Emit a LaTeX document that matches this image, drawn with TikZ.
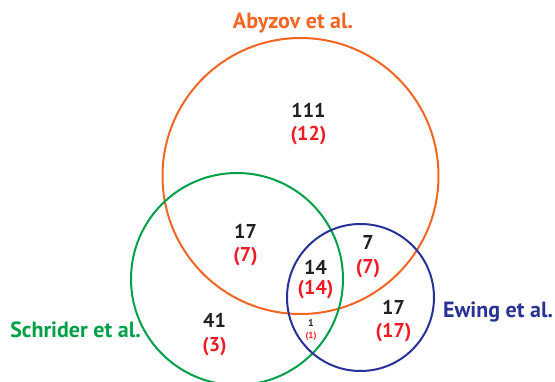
\documentclass[tikz,border=0pt]{standalone}
\usepackage{fontspec}
\setmainfont{PT Sans}
\definecolor{aorange}{RGB}{242,101,34}
\definecolor{sgreen}{RGB}{0,160,72}
\definecolor{eblue}{RGB}{40,50,150}
\definecolor{nred}{RGB}{237,28,36}
\definecolor{nblack}{RGB}{35,31,32}
\begin{document}
\begin{tikzpicture}[x=1pt,y=-1pt,
  ring/.style={line width=2pt},
  num/.style={font=\bfseries\fontsize{20}{20}\selectfont, text=nblack, inner sep=0pt},
  rnum/.style={font=\bfseries\fontsize{20}{20}\selectfont, text=nred, inner sep=0pt},
  snum/.style={font=\bfseries\fontsize{10}{10}\selectfont, text=nblack, inner sep=0pt},
  srnum/.style={font=\bfseries\fontsize{9}{9}\selectfont, text=nred, inner sep=0pt},
  lab/.style={font=\bfseries\fontsize{22}{22}\selectfont, inner sep=0pt}]
\useasboundingbox (0,0) rectangle (555,382);
\draw[ring, aorange] (300.5,176) circle[radius=138];
\draw[ring, sgreen] (237,279) circle[radius=106];
\draw[ring, eblue] (360.5,297.5) circle[radius=73.5];
\node[lab, text=aorange] (la) at (293,23) {Abyzov et al.};
\node[lab, text=sgreen] (ls) at (75.5,330) {Schrider et al.};
\node[lab, text=eblue] (le) at (498,312) {Ewing et al.};
\node[num] (a1) at (308.5,110) {111};
\node[rnum] (a2) at (308.5,136) {(12)};
\node[num] (b1) at (245.5,231) {17};
\node[rnum] (b2) at (245.5,257) {(7)};
\node[num] (c1) at (368,242.5) {7};
\node[rnum] (c2) at (368,269) {(7)};
\node[num] (d1) at (315.5,267) {14};
\node[rnum] (d2) at (315.5,290) {(14)};
\node[num] (e1) at (393.5,307) {17};
\node[rnum] (e2) at (393.5,333) {(17)};
\node[num] (f1) at (214.5,320.5) {41};
\node[rnum] (f2) at (214.5,346.5) {(3)};
\node[snum] (g1) at (311,323) {1};
\node[srnum] (g2) at (311,336.5) {(1)};
\end{tikzpicture}
\end{document}
